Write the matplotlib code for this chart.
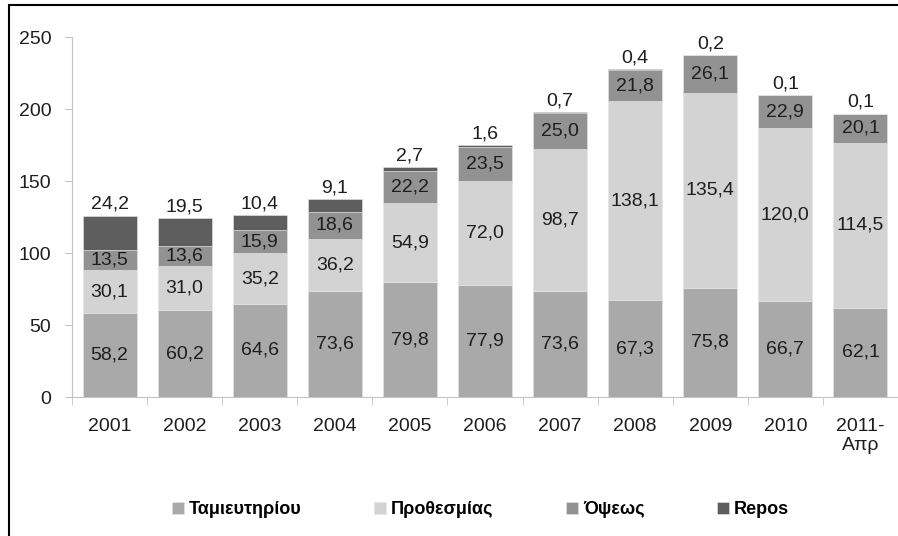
import numpy as np
import matplotlib.pyplot as plt
from matplotlib.patches import Rectangle

plt.rcParams['font.family'] = ['Liberation Sans', 'DejaVu Sans']

# Data
years = ['2001', '2002', '2003', '2004', '2005', '2006', '2007', '2008', '2009', '2010', '2011-\nΑπρ']
tamieftiriou = [58.2, 60.2, 64.6, 73.6, 79.8, 77.9, 73.6, 67.3, 75.8, 66.7, 62.1]
prothesmias = [30.1, 31.0, 35.2, 36.2, 54.9, 72.0, 98.7, 138.1, 135.4, 120.0, 114.5]
opseos = [13.5, 13.6, 15.9, 18.6, 22.2, 23.5, 25.0, 21.8, 26.1, 22.9, 20.1]
repos = [24.2, 19.5, 10.4, 9.1, 2.7, 1.6, 0.7, 0.4, 0.2, 0.1, 0.1]

names = ['Ταμιευτηρίου', 'Προθεσμίας', 'Όψεως', 'Repos']
colors = ['#a9a9a9', '#d3d3d3', '#929292', '#5e5e5e']
series = [tamieftiriou, prothesmias, opseos, repos]

fs = 14
fig = plt.figure(figsize=(8.98, 5.36), dpi=100)
ax = fig.add_axes([72 / 898, 1 - 397 / 536, 826 / 898, 360 / 536])

x = np.arange(len(years))
bottom = np.zeros(len(years))
for name, vals, col in zip(names, series, colors):
    vals = np.array(vals)
    ax.bar(x, vals, 0.72, bottom=bottom, color=col, edgecolor='#e6e6e6',
           linewidth=0.4, label=name)
    for i, v in enumerate(vals):
        txt = f'{v:.1f}'.replace('.', ',')
        if name == 'Repos':
            # Repos values sit above the bar
            ax.annotate(txt, (x[i], bottom[i] + v), xytext=(0, 2),
                        textcoords='offset points', ha='center', va='bottom',
                        fontsize=fs, color='#1e1e1e')
        else:
            ax.text(x[i], bottom[i] + v / 2, txt, ha='center', va='center',
                    fontsize=fs, color='#1e1e1e')
    bottom += vals

ax.set_ylim(0, 250)
ax.set_xlim(-0.50, 10.43)
ax.set_yticks([0, 50, 100, 150, 200, 250])
ax.set_xticks(x)
ax.set_xticklabels(years)
ax.set_xticks(np.arange(-0.5, 11, 1), minor=True)
ax.tick_params(axis='x', which='major', length=0, pad=15, labelsize=fs, labelcolor='#1e1e1e')
ax.tick_params(axis='x', which='minor', length=6, color='#c4c4c4')
ax.tick_params(axis='y', length=5, color='#c4c4c4', labelsize=fs, labelcolor='#1e1e1e', pad=10)

for s in ['top', 'right']:
    ax.spines[s].set_visible(False)
ax.spines['left'].set_color('#c4c4c4')
ax.spines['bottom'].set_color('#c4c4c4')

fig.legend(loc='center', bbox_to_anchor=(0.535, 1 - 510 / 536), ncol=4,
           frameon=False, handlelength=0.65, handleheight=0.65,
           columnspacing=4.0, handletextpad=0.3,
           prop={'weight': 'bold', 'size': 13})

# outer frame
fig.patches.append(Rectangle((9 / 898, -0.02), 1.0, 1 - 5 / 536 + 0.02,
                             transform=fig.transFigure, fill=False,
                             edgecolor='black', linewidth=1.5))

fig.savefig('out.png', dpi=100)
